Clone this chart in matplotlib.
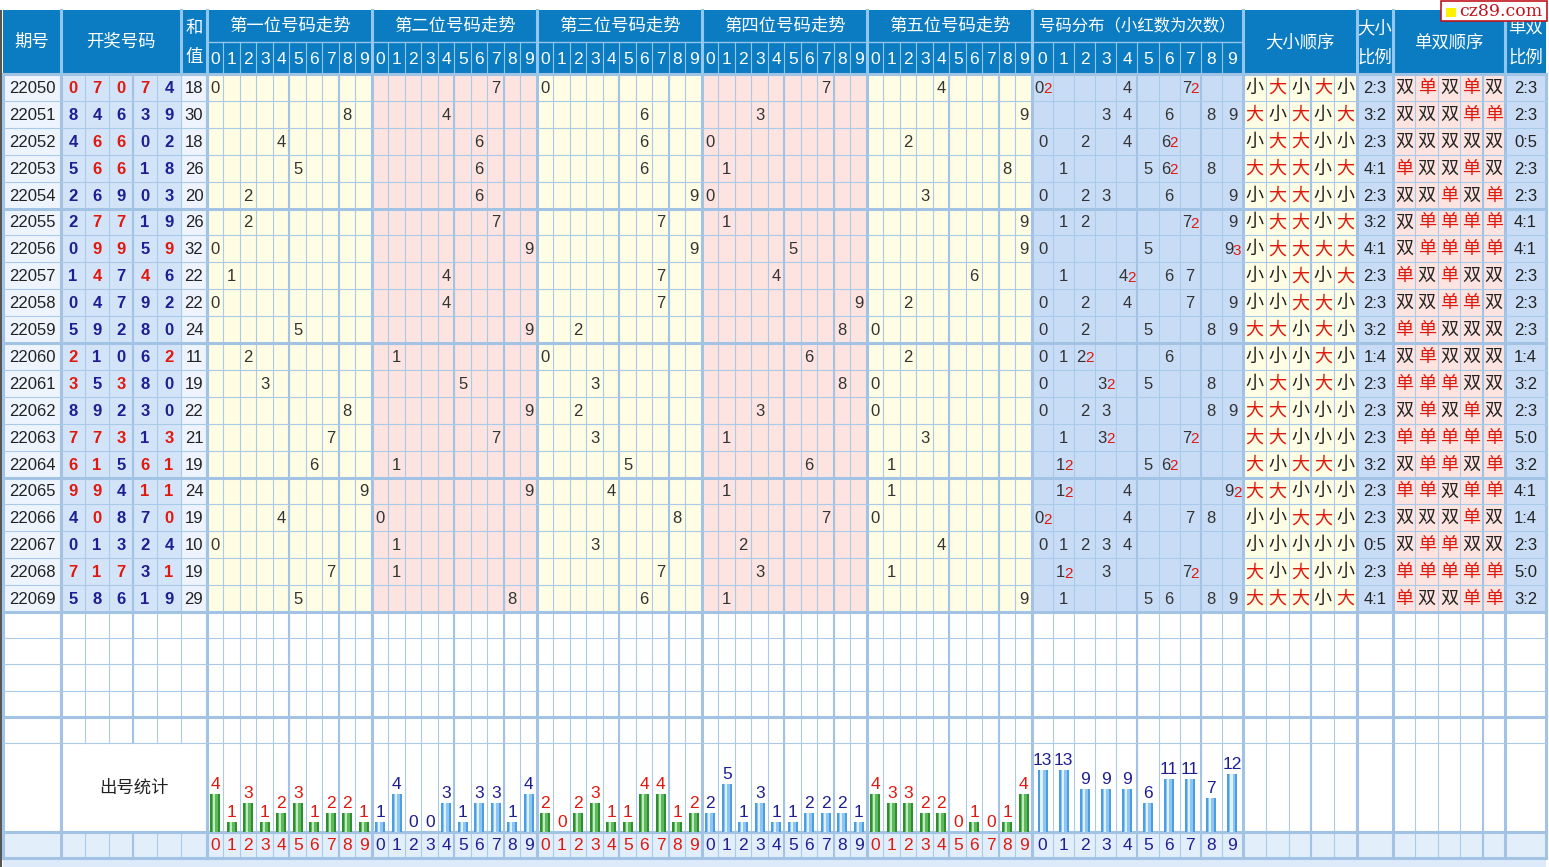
import matplotlib.pyplot as plt
from matplotlib.patches import Rectangle

plt.rcParams['font.family'] = ['Liberation Sans', 'Noto Sans CJK SC', 'DejaVu Sans']

# ---- data ----
periods = ['22050', '22051', '22052', '22053', '22054', '22055', '22056', '22057', '22058', '22059',
           '22060', '22061', '22062', '22063', '22064', '22065', '22066', '22067', '22068', '22069']
draws = [
    [0, 7, 0, 7, 4], [8, 4, 6, 3, 9], [4, 6, 6, 0, 2], [5, 6, 6, 1, 8], [2, 6, 9, 0, 3],
    [2, 7, 7, 1, 9], [0, 9, 9, 5, 9], [1, 4, 7, 4, 6], [0, 4, 7, 9, 2], [5, 9, 2, 8, 0],
    [2, 1, 0, 6, 2], [3, 5, 3, 8, 0], [8, 9, 2, 3, 0], [7, 7, 3, 1, 3], [6, 1, 5, 6, 1],
    [9, 9, 4, 1, 1], [4, 0, 8, 7, 0], [0, 1, 3, 2, 4], [7, 1, 7, 3, 1], [5, 8, 6, 1, 9],
]
sums = [18, 30, 18, 26, 20, 26, 32, 22, 22, 24, 11, 19, 22, 21, 19, 24, 19, 10, 19, 29]
bs_ratio = ['2:3', '3:2', '2:3', '4:1', '2:3', '3:2', '4:1', '2:3', '2:3', '3:2',
            '1:4', '2:3', '2:3', '2:3', '3:2', '2:3', '2:3', '0:5', '2:3', '4:1']
oe_ratio = ['2:3', '2:3', '0:5', '2:3', '2:3', '4:1', '4:1', '2:3', '2:3', '2:3',
            '1:4', '3:2', '2:3', '5:0', '3:2', '4:1', '1:4', '2:3', '5:0', '3:2']
pos_titles = ['第一位号码走势', '第二位号码走势', '第三位号码走势', '第四位号码走势', '第五位号码走势']
pos_counts = [
    [4, 1, 3, 1, 2, 3, 1, 2, 2, 1],
    [1, 4, 0, 0, 3, 1, 3, 3, 1, 4],
    [2, 0, 2, 3, 1, 1, 4, 4, 1, 2],
    [2, 5, 1, 3, 1, 1, 2, 2, 2, 1],
    [4, 3, 3, 2, 2, 0, 1, 0, 1, 4],
]
dist_counts = [13, 13, 9, 9, 9, 6, 11, 11, 7, 12]
digits = list(range(10))

# ---- colours ----
HDR_BG = '#0B7CC1'
HDR_LINE = '#93C6EC'
GRID = '#AACAE9'
GRID_T = '#A2C3E4'
YEL = '#FFFDE3'
PINK = '#FDE4E0'
DIST_BG = '#C8DCF6'
DRAW_BG = '#D4E4F8'
PER_BG = '#EDF4FD'
LAB_BG = '#E3EEFB'
RED = '#E0180E'
NAVY = '#1E1E92'
DARK = '#222222'

W, H = 1549, 867
fig = plt.figure(figsize=(W / 100, H / 100), dpi=100)
ax = fig.add_axes([0, 0, 1, 1])
ax.set_xlim(0, W)
ax.set_ylim(H, 0)
ax.axis('off')

# ---- layout ----
LEFT, RIGHT = 3, 1546
HDR = [10, 42, 74]
n = len(periods)
row_y = [74 + 26.9 * i for i in range(n + 1)]
empty_y = [row_y[-1] + 26.2 * i for i in range(6)]
STAT_TOP, STAT_BOT, LAB_BOT = empty_y[-1], 832, 858

per_x = (LEFT, 61)
draw_x = [61 + 24 * i for i in range(6)]
sum_x = (181, 207)
pos_x = [[207 + 165 * p + 16.5 * d for d in range(11)] for p in range(5)]
dist_x = [1032 + 21.1 * d for d in range(11)]
bs_x = [1243 + 22.8 * i for i in range(6)]
bsr_x = (bs_x[-1], 1393)
oe_x = [1393 + 22.4 * i for i in range(6)]
oer_x = (oe_x[-1], RIGHT)


def rect(x0, x1, y0, y1, color, **kw):
    ax.add_patch(Rectangle((x0, y0), x1 - x0, y1 - y0, facecolor=color, edgecolor='none', lw=0, **kw))


def txt(x, y, s, size=12, color=DARK, **kw):
    ax.text(x, y, s, ha=kw.pop('ha', 'center'), va='center', fontsize=size, color=color, **kw)


def mid(a, b):
    return (a + b) / 2


# ---- backgrounds ----
rect(0, W, 0, H, 'white')
rect(0, 2.5, HDR[0], H, '#555555')
rect(LEFT, RIGHT, HDR[0], HDR[2], HDR_BG)
y0, y1 = row_y[0], row_y[-1]
rect(*per_x, y0, y1, PER_BG)
rect(draw_x[0], draw_x[-1], y0, y1, DRAW_BG)
rect(*sum_x, y0, y1, PER_BG)
for p in range(5):
    rect(pos_x[p][0], pos_x[p][-1], y0, y1, YEL if p % 2 == 0 else PINK)
rect(dist_x[0], dist_x[-1], y0, y1, DIST_BG)
rect(bs_x[0], bs_x[-1], y0, y1, YEL)
rect(*bsr_x, y0, y1, DIST_BG)
rect(oe_x[0], oe_x[-1], y0, y1, PINK)
rect(*oer_x, y0, y1, DIST_BG)
rect(LEFT, RIGHT, STAT_BOT, LAB_BOT, LAB_BG)
rect(LEFT, RIGHT, LAB_BOT, H, '#DCEAF9')

# ---- grid lines in body ----
all_cols = [per_x[0], per_x[1]] + draw_x + [sum_x[1]]
for p in range(5):
    all_cols += pos_x[p]
all_cols += dist_x + bs_x + [bsr_x[1]] + oe_x + [oer_x[1]]
merged = set(draw_x[1:])
for x in all_cols:
    ax.plot([x, x], [HDR[2], STAT_TOP], color=GRID, lw=0.8, zorder=2)
    ax.plot([x, x], [STAT_BOT, LAB_BOT], color=GRID, lw=0.8, zorder=2)
    if x not in merged:
        ax.plot([x, x], [STAT_TOP, STAT_BOT], color=GRID, lw=0.8, zorder=2)
mid_thick = [bs_x[3], oe_x[4]] + [pos_x[p][k] for p in range(5) for k in (5, 8)] + [dist_x[5], dist_x[8]]
for x in mid_thick:
    ax.plot([x, x], [HDR[2], LAB_BOT], color=GRID_T, lw=1.5, zorder=3)
ax.plot([draw_x[3], draw_x[3]], [HDR[2], STAT_TOP], color=GRID_T, lw=1.5, zorder=3)
ax.plot([draw_x[3], draw_x[3]], [STAT_BOT, LAB_BOT], color=GRID_T, lw=1.5, zorder=3)
thick = [LEFT, per_x[1], sum_x[1]] + [pos_x[p][0] for p in range(5)] + [dist_x[0], bs_x[0], bsr_x[0], oe_x[0], oer_x[0], RIGHT]
for x in thick:
    ax.plot([x, x], [HDR[2], LAB_BOT], color=GRID_T, lw=2.2, zorder=3)

for i, y in enumerate(row_y):
    ax.plot([LEFT, RIGHT], [y, y], color=GRID_T if i % 5 == 0 else GRID, lw=2.2 if i % 5 == 0 else 0.8, zorder=3)
for i, y in enumerate(empty_y[1:]):
    ax.plot([LEFT, RIGHT], [y, y], color=GRID_T if i == 3 else GRID, lw=2.2 if i == 3 else 0.8, zorder=3)
ax.plot([LEFT, RIGHT], [STAT_BOT, STAT_BOT], color=GRID_T, lw=2.2, zorder=3)
ax.plot([LEFT, RIGHT], [LAB_BOT, LAB_BOT], color=GRID_T, lw=2.2, zorder=3)

# ---- header ----
hdr_thick = [per_x[1], sum_x[0], sum_x[1]] + [pos_x[p][-1] for p in range(5)] + [dist_x[-1], bs_x[-1], bsr_x[1], oe_x[-1]]
for x in hdr_thick:
    ax.plot([x, x], [HDR[0], HDR[2]], color=HDR_LINE, lw=2.2, zorder=3)
ax.plot([pos_x[0][0], dist_x[-1]], [HDR[1], HDR[1]], color=HDR_LINE, lw=1, zorder=3)
for p in range(5):
    for x in pos_x[p][1:-1]:
        ax.plot([x, x], [HDR[1], HDR[2]], color=HDR_LINE, lw=0.8, zorder=3)
for x in dist_x[1:-1]:
    ax.plot([x, x], [HDR[1], HDR[2]], color=HDR_LINE, lw=0.8, zorder=3)

hc = mid(HDR[0], HDR[2])
h1 = mid(HDR[0], HDR[1])
h2 = mid(HDR[1], HDR[2])
txt(mid(*per_x), hc, '期号', 12.5, 'white')
txt(mid(draw_x[0], draw_x[-1]), hc, '开奖号码', 12.5, 'white')
txt(mid(*sum_x), h1 + 2, '和', 12.5, 'white')
txt(mid(*sum_x), h2 - 1, '值', 12.5, 'white')
for p in range(5):
    txt(mid(pos_x[p][0], pos_x[p][-1]), h1, pos_titles[p], 12.5, 'white')
    for d in digits:
        txt(mid(pos_x[p][d], pos_x[p][d + 1]), h2 + 1, str(d), 12.5, 'white')
txt(mid(dist_x[0], dist_x[-1]), h1, '号码分布（小红数为次数）', 11.8, 'white')
for d in digits:
    txt(mid(dist_x[d], dist_x[d + 1]), h2 + 1, str(d), 12.5, 'white')
txt(mid(bs_x[0], bs_x[-1]), hc, '大小顺序', 12.5, 'white')
txt(mid(*bsr_x), h1 + 2, '大小', 12.5, 'white')
txt(mid(*bsr_x), h2 - 1, '比例', 12.5, 'white')
txt(mid(oe_x[0], oe_x[-1]), hc, '单双顺序', 12.5, 'white')
txt(mid(*oer_x), h1 + 2, '单双', 12.5, 'white')
txt(mid(*oer_x), h2 - 1, '比例', 12.5, 'white')

# ---- rows ----
for i, (per, dr) in enumerate(zip(periods, draws)):
    yc = mid(row_y[i], row_y[i + 1]) + 1
    txt(mid(*per_x), yc, per, 12)
    for k, v in enumerate(dr):
        col = RED if dr.count(v) > 1 else NAVY
        txt(mid(draw_x[k], draw_x[k + 1]), yc, str(v), 12, col, fontweight='bold')
    txt(mid(*sum_x), yc, str(sums[i]), 12)
    for p, v in enumerate(dr):
        txt(mid(pos_x[p][v], pos_x[p][v + 1]), yc, str(v), 12, '#333333')
    for d in digits:
        c = dr.count(d)
        cx = mid(dist_x[d], dist_x[d + 1])
        if c == 1:
            txt(cx, yc, str(d), 12, '#333333')
        elif c > 1:
            txt(cx - 3.5, yc, str(d), 12, '#333333')
            txt(cx + 0.5, yc + 1, str(c), 11, RED, ha='left')
    for k, v in enumerate(dr):
        big = v >= 5
        txt(mid(bs_x[k], bs_x[k + 1]), yc, '大' if big else '小', 13, RED if big else DARK)
        odd = v % 2 == 1
        txt(mid(oe_x[k], oe_x[k + 1]), yc, '单' if odd else '双', 13, RED if odd else DARK)
    txt(mid(*bsr_x), yc, bs_ratio[i], 12)
    txt(mid(*oer_x), yc, oe_ratio[i], 12)

# ---- statistics row ----
txt(mid(draw_x[0], sum_x[1]), mid(STAT_TOP, STAT_BOT), '出号统计', 12.5, DARK)


def cyl_bars(xs, vals, unit, width, dark, mid_c, light):
    hs = [v * unit for v in vals]
    ax.bar(xs, [-h for h in hs], bottom=STAT_BOT, width=width, color=dark, zorder=4)
    ax.bar(xs, [-h for h in hs], bottom=STAT_BOT, width=width * 0.6, color=mid_c, zorder=5)
    ax.bar([x - width * 0.1 for x in xs], [-h for h in hs], bottom=STAT_BOT, width=width * 0.22, color=light, zorder=6)
    return hs


for p in range(5):
    xs = [mid(pos_x[p][d], pos_x[p][d + 1]) for d in digits]
    green = p % 2 == 0
    if green:
        hs = cyl_bars(xs, pos_counts[p], 9.6, 10, '#2F8F2F', '#5DB95D', '#C2EBC2')
    else:
        hs = cyl_bars(xs, pos_counts[p], 9.6, 10, '#4C9EE2', '#8DC6F2', '#E0F0FC')
    lc = RED if green else NAVY
    for d, (x, h, v) in enumerate(zip(xs, hs, pos_counts[p])):
        ax.text(x, STAT_BOT - h - 2, str(v), ha='center', va='bottom', fontsize=12.5, color=lc, zorder=7)
        txt(x, mid(STAT_BOT, LAB_BOT) + 1, str(d), 12.5, lc)

xs = [mid(dist_x[d], dist_x[d + 1]) for d in digits]
hs = cyl_bars(xs, dist_counts, 4.8, 10, '#4C9EE2', '#8DC6F2', '#E0F0FC')
for d, (x, h, v) in enumerate(zip(xs, hs, dist_counts)):
    ax.text(x, STAT_BOT - h - 2, str(v), ha='center', va='bottom', fontsize=12.5, color=NAVY, zorder=7)
    txt(x, mid(STAT_BOT, LAB_BOT) + 1, str(d), 12.5, NAVY)

# ---- watermark ----
ax.add_patch(Rectangle((1441, 1), 106, 20, facecolor='white', edgecolor='#C0141C', lw=1.2, zorder=10))
rect(1446, 1456, 8, 17, '#FFF200', zorder=11)
ax.text(1459, 11.5, 'cz89.com', ha='left', va='center', fontsize=12.5, color='#C0141C',
        family='DejaVu Serif', zorder=11)

fig.savefig('out.png', dpi=100)
